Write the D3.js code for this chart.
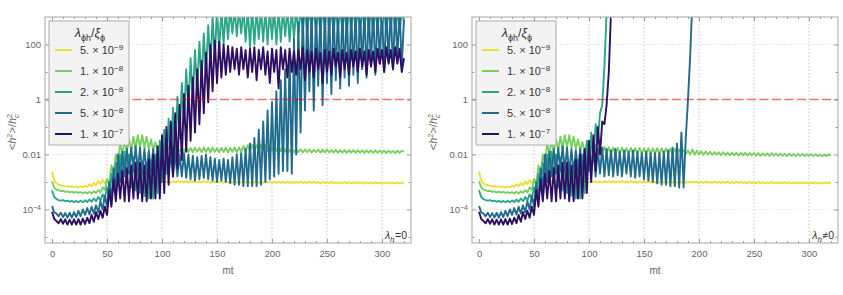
<!DOCTYPE html>
<html>
<head>
<meta charset="utf-8">
<script src="https://cdn.jsdelivr.net/npm/d3@7"></script>
<style>
  body { margin: 0; background: #fff; }
  svg { display: block; }
  text { font-family: "Liberation Sans", Arial, sans-serif; }
</style>
</head>
<body>
<svg id="chart" width="843" height="295"></svg>
<script>
// samples are every TIME_STEP in mt, starting at mt = 0
const TIME_STEP = 2;

// log10(<h^2>/h_c^2), left panel (lambda_h = 0)
const yellowL = [
  -2.62,-2.95,-3.05,-3.10,-3.12,-3.14,-3.16,-3.15,-3.18,-3.16,
  -3.19,-3.17,-3.20,-3.17,-3.19,-3.14,-3.18,-3.08,-3.16,-3.03,
  -3.12,-2.97,-3.08,-2.92,-3.05,-2.90,-3.02,-2.90,-3.00,-2.92,
  -2.99,-2.94,-3.00,-2.95,-3.01,-2.96,-3.01,-2.96,-3.02,-2.97,
  -3.01,-2.96,-3.02,-2.97,-3.02,-2.96,-3.01,-2.97,-3.02,-2.97,
  -3.02,-2.97,-3.01,-2.97,-3.02,-2.98,-3.02,-2.97,-3.01,-2.97,
  -3.02,-2.97,-3.02,-2.98,-3.01,-2.97,-3.02,-2.98,-3.02,-2.97,
  -3.01,-2.98,-3.03,-2.98,-3.02,-2.97,-3.02,-2.98,-3.03,-2.98,
  -3.02,-2.98,-3.03,-2.98,-3.02,-2.99,-3.03,-2.98,-3.02,-2.99,
  -3.03,-2.99,-3.02,-2.98,-3.03,-2.99,-3.03,-2.99,-3.02,-2.99,
  -3.03,-2.99,-3.04,-2.99,-3.03,-3.00,-3.04,-2.99,-3.03,-3.00,
  -3.04,-3.00,-3.03,-2.99,-3.04,-3.00,-3.04,-3.00,-3.03,-3.00,
  -3.04,-3.00,-3.05,-3.00,-3.04,-3.01,-3.05,-3.00,-3.04,-3.01,
  -3.05,-3.01,-3.04,-3.00,-3.05,-3.01,-3.05,-3.01,-3.04,-3.01,
  -3.05,-3.01,-3.06,-3.01,-3.05,-3.02,-3.06,-3.01,-3.05,-3.02,
  -3.06,-3.02,-3.05,-3.01,-3.06,-3.02,-3.06,-3.02,-3.05,-3.02,
  -3.05
];
const greenL = [
  -2.98,-3.20,-3.28,-3.30,-3.33,-3.32,-3.36,-3.34,-3.38,-3.35,
  -3.39,-3.36,-3.40,-3.37,-3.41,-3.37,-3.42,-3.36,-3.42,-3.34,
  -3.40,-3.30,-3.38,-3.20,-3.30,-2.90,-3.10,-2.40,-2.70,-2.00,
  -2.30,-1.60,-2.00,-1.50,-1.90,-1.45,-1.85,-1.35,-1.80,-1.30,
  -1.75,-1.30,-1.75,-1.35,-1.80,-1.45,-1.85,-1.55,-1.90,-1.60,
  -1.90,-1.65,-1.92,-1.70,-1.90,-1.72,-1.90,-1.75,-1.92,-1.75,
  -1.90,-1.74,-1.91,-1.76,-1.92,-1.75,-1.90,-1.76,-1.92,-1.74,
  -1.91,-1.76,-1.92,-1.75,-1.90,-1.77,-1.92,-1.76,-1.91,-1.75,
  -1.92,-1.76,-1.90,-1.75,-1.92,-1.74,-1.90,-1.70,-1.88,-1.66,
  -1.86,-1.65,-1.85,-1.66,-1.86,-1.64,-1.85,-1.66,-1.86,-1.67,
  -1.85,-1.68,-1.87,-1.70,-1.88,-1.72,-1.90,-1.75,-1.90,-1.78,
  -1.92,-1.80,-1.92,-1.81,-1.93,-1.82,-1.92,-1.82,-1.93,-1.83,
  -1.92,-1.82,-1.93,-1.83,-1.92,-1.82,-1.93,-1.84,-1.93,-1.83,
  -1.94,-1.84,-1.93,-1.84,-1.94,-1.85,-1.93,-1.84,-1.94,-1.85,
  -1.93,-1.85,-1.94,-1.85,-1.93,-1.86,-1.94,-1.85,-1.94,-1.86,
  -1.94,-1.86,-1.95,-1.86,-1.94,-1.87,-1.95,-1.86,-1.94,-1.87,
  -1.90
];
const tealL = [
  -3.30,-3.55,-3.62,-3.66,-3.68,-3.66,-3.70,-3.68,-3.72,-3.69,
  -3.73,-3.69,-3.74,-3.68,-3.74,-3.67,-3.73,-3.64,-3.72,-3.60,
  -3.70,-3.55,-3.66,-3.45,-3.60,-3.20,-3.50,-2.70,-3.20,-2.30,
  -3.00,-2.00,-2.90,-1.90,-3.00,-2.00,-3.20,-2.10,-3.30,-2.20,
  -3.40,-2.30,-3.50,-2.30,-3.60,-2.20,-3.60,-2.00,-3.40,-1.50,
  -3.00,-1.10,-2.70,-0.70,-2.30,-0.30,-1.90,0.10,-1.40,0.60,
  -0.90,1.10,-0.40,1.50,0.00,1.80,0.30,2.10,0.60,2.40,
  0.90,2.70,1.20,3.00,1.50,3.30,1.80,3.30,2.00,3.30,
  2.20,3.30,2.40,3.30,2.30,3.30,2.40,3.30,2.10,3.30,
  1.90,3.30,2.00,3.30,2.20,3.30,2.10,3.30,2.00,3.30,
  2.20,3.30,2.00,3.30,2.10,3.30,2.30,3.30,2.10,3.30,
  2.20,3.30,2.40,3.30,2.50,3.30,2.40,3.30,2.60,3.30,
  2.50,3.30,2.40,3.30,2.60,3.30,2.50,3.30,2.40,3.30,
  2.60,3.30,2.50,3.30,2.40,3.30,2.60,3.30,2.50,3.30,
  2.40,3.30,2.60,3.30,2.50,3.30,2.40,3.30,2.60,3.30,
  2.50,3.30,2.40,3.30,2.60,3.30,2.50,3.30,2.40,3.30,
  2.80
];
const blueL = [
  -3.88,-4.10,-4.15,-4.25,-4.12,-4.28,-4.13,-4.30,-4.12,-4.30,
  -4.10,-4.28,-4.05,-4.25,-4.00,-4.20,-3.95,-4.18,-3.90,-4.15,
  -3.85,-4.10,-3.70,-4.00,-3.50,-3.90,-3.00,-3.60,-2.50,-3.30,
  -2.00,-3.00,-1.90,-2.80,-1.80,-2.70,-1.75,-2.60,-1.70,-2.60,
  -1.75,-2.70,-1.80,-2.70,-1.85,-2.60,-1.80,-2.60,-1.85,-2.70,
  -1.90,-2.70,-1.90,-2.75,-1.95,-2.80,-1.95,-2.80,-2.00,-2.80,
  -1.95,-2.85,-2.00,-2.90,-2.05,-2.95,-2.10,-2.90,-2.05,-2.85,
  -2.00,-2.90,-2.10,-2.95,-2.15,-3.00,-2.20,-2.95,-2.15,-3.00,
  -2.20,-3.05,-2.10,-3.10,-2.00,-3.10,-1.95,-3.15,-1.80,-3.15,
  -1.60,-3.15,-1.40,-3.15,-1.10,-3.10,-0.80,-3.00,-0.40,-2.90,
  -0.10,-2.80,0.30,-2.70,0.70,-2.60,1.10,-2.60,1.60,-2.70,
  2.20,-2.00,2.80,-1.20,3.30,-0.40,3.30,0.30,3.30,-0.40,
  3.30,0.50,3.30,-0.20,3.30,0.60,3.30,0.20,3.30,0.70,
  3.30,0.40,3.30,0.80,3.30,0.50,3.30,0.90,3.30,0.60,
  3.30,1.10,3.30,0.80,3.30,1.20,3.30,0.90,3.30,1.30,
  3.30,1.00,3.30,1.40,3.30,1.10,3.30,1.50,3.30,1.20,
  2.90
];
const purpleL = [
  -4.08,-4.35,-4.42,-4.50,-4.35,-4.52,-4.36,-4.55,-4.37,-4.55,
  -4.36,-4.55,-4.35,-4.55,-4.33,-4.53,-4.30,-4.50,-4.20,-4.45,
  -4.10,-4.35,-4.05,-4.30,-3.90,-4.20,-3.30,-3.90,-2.90,-3.70,
  -2.70,-3.60,-2.60,-3.70,-2.50,-3.70,-2.40,-3.60,-2.30,-3.60,
  -2.30,-3.70,-2.40,-3.70,-2.20,-3.60,-2.00,-3.60,-1.70,-3.60,
  -1.30,-3.40,-1.00,-3.10,-0.80,-2.80,-0.50,-2.50,-0.20,-2.20,
  0.20,-1.90,0.50,-1.50,0.80,-1.20,1.10,-0.90,1.40,-0.50,
  1.70,-0.10,2.00,0.30,2.15,0.60,2.10,0.80,2.00,0.90,
  1.95,1.00,1.90,1.10,1.85,0.90,1.90,1.10,1.80,0.80,
  1.85,1.00,1.90,0.70,1.80,1.10,1.90,0.90,1.75,0.60,
  1.85,1.00,1.80,0.40,1.90,1.10,1.80,0.80,1.85,1.00,
  1.75,0.90,1.80,1.10,1.90,0.70,1.80,1.00,1.75,0.80,
  1.85,1.10,1.70,0.60,1.80,1.00,1.75,0.90,1.85,1.20,
  1.70,0.80,1.80,1.10,1.70,0.90,1.80,1.20,1.75,1.00,
  1.85,1.20,1.75,0.90,1.80,1.20,1.75,1.00,1.85,1.30,
  1.80,1.00,1.90,1.30,1.80,1.10,1.90,1.30,1.85,1.00,
  1.50
];

// right panel (lambda_h != 0): same runs up to mt ~ 96, then they part
const yellowR = yellowL;
const greenR = greenL.slice(0, 50).concat([
  -1.85,-1.62,-1.95,-1.65,-1.96,-1.70,-1.95,-1.72,-1.97,-1.74,
  -1.96,-1.75,-1.98,-1.76,-1.97,-1.75,-1.98,-1.77,-1.97,-1.76,
  -1.98,-1.77,-1.97,-1.76,-1.98,-1.78,-1.97,-1.77,-1.98,-1.78,
  -1.97,-1.77,-1.98,-1.78,-1.97,-1.78,-1.98,-1.79,-1.97,-1.80,
  -1.98,-1.82,-1.97,-1.84,-1.98,-1.86,-2.00,-1.82,-2.01,-1.86,
  -2.00,-1.88,-2.02,-1.89,-2.01,-1.90,-2.02,-1.91,-2.01,-1.92,
  -2.03,-1.92,-2.02,-1.93,-2.03,-1.93,-2.03,-1.94,-2.04,-1.94,
  -2.03,-1.94,-2.04,-1.95,-2.03,-1.95,-2.04,-1.95,-2.05,-1.96,
  -2.04,-1.96,-2.05,-1.96,-2.04,-1.97,-2.05,-1.97,-2.05,-1.97,
  -2.06,-1.97,-2.05,-1.98,-2.06,-1.98,-2.05,-1.98,-2.06,-1.99,
  -2.05,-1.99,-2.06,-1.99,-2.06,-2.00,-2.07,-2.00,-2.06,-2.00,
  -2.04
]);
const tealR = tealL.slice(0, 50).concat([
  -2.60,-1.20,-2.20,-0.90,-1.50,-0.50,-0.20,1.20,3.20,4.50
]);
const blueR = blueL.slice(0, 50).concat([
  -1.90,-2.70,-1.85,-2.80,-1.80,-2.70,-1.75,-2.80,-1.80,-2.75,
  -1.85,-2.80,-1.80,-2.75,-1.90,-2.80,-1.85,-2.70,-1.90,-2.80,
  -1.85,-2.85,-1.90,-2.80,-1.95,-2.90,-1.90,-2.95,-1.95,-3.00,
  -1.95,-3.05,-1.95,-3.10,-1.90,-3.10,-1.85,-3.15,-1.75,-3.15,
  -1.60,-3.20,-1.20,-3.20,-1.40,0.00,1.60,3.60
]);
const purpleR = purpleL.slice(0, 48).concat([
  -1.80,-3.40,
  -1.50,-3.00,-1.30,-2.60,-1.00,-2.00,-0.80,-0.90,-0.20,1.00,
  3.20,4.50
]);

const SERIES_L = [yellowL, greenL, tealL, blueL, purpleL];
const SERIES_R = [yellowR, greenR, tealR, blueR, purpleR];

const LEGEND_MANT = ['5.', '1.', '2.', '5.', '1.'];
const LEGEND_EXP = ['\u22129', '\u22128', '\u22128', '\u22128', '\u22127'];
const COLORS = ['#e8e03c', '#78cf5f', '#2ba688', '#216b8d', '#2c0e62'];

const X_TICKS = [0, 50, 100, 150, 200, 250, 300];
const X_MINOR = d3.range(0, 321, 10);
const Y_TICKS = [1e-4, 1e-2, 1, 100];
const Y_TICK_TEXT = [['10', '\u22124'], ['0.01'], ['1'], ['100']];
const Y_MINOR = [1e-5, 1e-3, 0.1, 10];
const THRESHOLD = 1;

const panels = [
  { x0: 45, x1: 411, ylab: 16, series: SERIES_L, note: '=0' },
  { x0: 472, x1: 838, ylab: 437, series: SERIES_R, note: '\u22600' }
];
const TOP = 17, BOTTOM = 243;

const svg = d3.select('#chart');

panels.forEach((p, k) => {
  const x = d3.scaleLinear().domain([-6.4, 326.4]).range([p.x0, p.x1]);
  const y = d3.scaleLog().domain([Math.pow(10, -5.22), 1000]).range([BOTTOM, TOP]);
  const g = svg.append('g');

  g.append('clipPath').attr('id', 'clip' + k)
    .append('rect').attr('x', p.x0).attr('y', TOP)
    .attr('width', p.x1 - p.x0).attr('height', BOTTOM - TOP);

  // grid
  g.append('g').selectAll('line').data(X_TICKS.slice(1)).enter().append('line')
    .attr('x1', d => x(d)).attr('x2', d => x(d)).attr('y1', TOP).attr('y2', BOTTOM)
    .attr('stroke', '#b8b8b8').attr('stroke-width', 0.8).attr('stroke-dasharray', '1.5,2');
  g.append('g').selectAll('line').data(Y_TICKS).enter().append('line')
    .attr('x1', p.x0).attr('x2', p.x1).attr('y1', d => y(d)).attr('y2', d => y(d))
    .attr('stroke', '#dcdcdc').attr('stroke-width', 0.8).attr('stroke-dasharray', '1.5,2');

  // data
  const line = d3.line()
    .x((v, i) => x(i * TIME_STEP))
    .y(v => y(Math.pow(10, v)));
  g.append('g').attr('clip-path', `url(#clip${k})`)
    .selectAll('path').data(p.series).enter().append('path')
    .attr('d', line)
    .attr('fill', 'none')
    .attr('stroke', (d, i) => COLORS[i])
    .attr('stroke-width', 1.9)
    .attr('stroke-linejoin', 'round');

  // threshold
  g.append('line')
    .attr('x1', p.x0).attr('x2', p.x1)
    .attr('y1', y(THRESHOLD)).attr('y2', y(THRESHOLD))
    .attr('stroke', '#ff0000').attr('stroke-opacity', 0.55)
    .attr('stroke-width', 1.6).attr('stroke-dasharray', '9,3.5');

  // frame & ticks
  const tickCol = '#9a9a9a';
  const styleAxis = sel => {
    sel.select('.domain').remove();
    sel.selectAll('line').attr('stroke', tickCol);
    sel.selectAll('text').attr('fill', '#666').attr('font-size', '9.5px')
      .attr('font-family', '"Liberation Sans", Arial, sans-serif');
  };
  g.append('g').attr('transform', `translate(0,${BOTTOM})`)
    .call(d3.axisBottom(x).tickValues(X_MINOR).tickSize(-2).tickFormat(''))
    .call(styleAxis);
  g.append('g').attr('transform', `translate(0,${BOTTOM})`)
    .call(d3.axisBottom(x).tickValues(X_TICKS).tickSize(-4).tickPadding(7))
    .call(styleAxis);
  g.append('g').attr('transform', `translate(0,${TOP})`)
    .call(d3.axisTop(x).tickValues(X_MINOR).tickSize(-2).tickFormat(''))
    .call(styleAxis);
  g.append('g').attr('transform', `translate(0,${TOP})`)
    .call(d3.axisTop(x).tickValues(X_TICKS).tickSize(-4).tickFormat(''))
    .call(styleAxis);

  const yl = g.append('g').attr('transform', `translate(${p.x0},0)`)
    .call(d3.axisLeft(y).tickValues(Y_TICKS).tickSize(-4).tickPadding(4).tickFormat(''))
    .call(styleAxis);
  yl.selectAll('.tick text').each(function (d, i) {
    const t = d3.select(this);
    const parts = Y_TICK_TEXT[i];
    t.append('tspan').text(parts[0]);
    if (parts[1]) t.append('tspan').attr('dy', '-0.45em').attr('font-size', '7px').text(parts[1]);
  });
  g.append('g').attr('transform', `translate(${p.x0},0)`)
    .call(d3.axisLeft(y).tickValues(Y_MINOR).tickSize(-2.5).tickFormat(''))
    .call(styleAxis);
  g.append('g').attr('transform', `translate(${p.x1},0)`)
    .call(d3.axisRight(y).tickValues(Y_TICKS).tickSize(-4).tickFormat(''))
    .call(styleAxis);
  g.append('g').attr('transform', `translate(${p.x1},0)`)
    .call(d3.axisRight(y).tickValues(Y_MINOR).tickSize(-2.5).tickFormat(''))
    .call(styleAxis);

  g.append('rect').attr('x', p.x0).attr('y', TOP)
    .attr('width', p.x1 - p.x0).attr('height', BOTTOM - TOP)
    .attr('fill', 'none').attr('stroke', '#a6a6a6').attr('stroke-width', 1);

  // axis labels
  g.append('text').attr('x', (p.x0 + p.x1) / 2).attr('y', 274)
    .attr('text-anchor', 'middle').attr('fill', '#666').attr('font-size', '10px').text('mt');

  const ylab = g.append('text')
    .attr('transform', `translate(${p.ylab},132) rotate(-90)`)
    .attr('text-anchor', 'middle').attr('fill', '#666').attr('font-size', '11px');
  ylab.append('tspan').text('<');
  ylab.append('tspan').attr('font-style', 'italic').text('h');
  ylab.append('tspan').attr('dy', -4.5).attr('font-size', '7.5px').text('2');
  ylab.append('tspan').attr('dy', 4.5).text('>/');
  ylab.append('tspan').attr('font-style', 'italic').text('h');
  ylab.append('tspan').attr('dy', -4.5).attr('font-size', '7.5px').text('2');
  ylab.append('tspan').attr('dx', -4.2).attr('dy', 7.5).attr('font-size', '7.5px')
    .attr('font-style', 'italic').text('c');

  // corner note
  const note = g.append('text').attr('x', p.x1 - 4).attr('y', 239)
    .attr('text-anchor', 'end').attr('fill', '#333').attr('font-size', '10.5px');
  note.append('tspan').attr('font-style', 'italic').text('\u03bb');
  note.append('tspan').attr('dy', 3).attr('font-size', '8px').attr('font-style', 'italic').text('h');
  note.append('tspan').attr('dy', -3).attr('dx', 0.5).text(p.note);

  // legend
  const lx = p.x0 + 4;
  const lg = g.append('g');
  lg.append('rect').attr('x', lx).attr('y', 21).attr('width', 80).attr('height', 124)
    .attr('fill', '#f3f3f3').attr('stroke', '#ababab').attr('stroke-width', 1);
  const title = lg.append('text').attr('x', lx + 41).attr('y', 37)
    .attr('text-anchor', 'middle').attr('fill', '#333').attr('font-size', '12.5px');
  title.append('tspan').attr('font-style', 'italic').text('\u03bb');
  title.append('tspan').attr('dy', 3.5).attr('font-size', '9px').text('\u03d5h');
  title.append('tspan').attr('dy', -3.5).text('/');
  title.append('tspan').attr('font-style', 'italic').text('\u03be');
  title.append('tspan').attr('dy', 3.5).attr('font-size', '9px').text('\u03d5');

  LEGEND_MANT.forEach((m, i) => {
    const cy = 50 + 21 * i;
    lg.append('line').attr('x1', lx + 6).attr('x2', lx + 23).attr('y1', cy).attr('y2', cy)
      .attr('stroke', COLORS[i]).attr('stroke-width', 2);
    const t = lg.append('text').attr('x', lx + 31).attr('y', cy + 4)
      .attr('fill', '#333').attr('font-size', '11px');
    t.append('tspan').text(m + ' \u00d7 10');
    t.append('tspan').attr('dy', -4.5).attr('font-size', '8px').text(LEGEND_EXP[i]);
  });
});
</script>
</body>
</html>
